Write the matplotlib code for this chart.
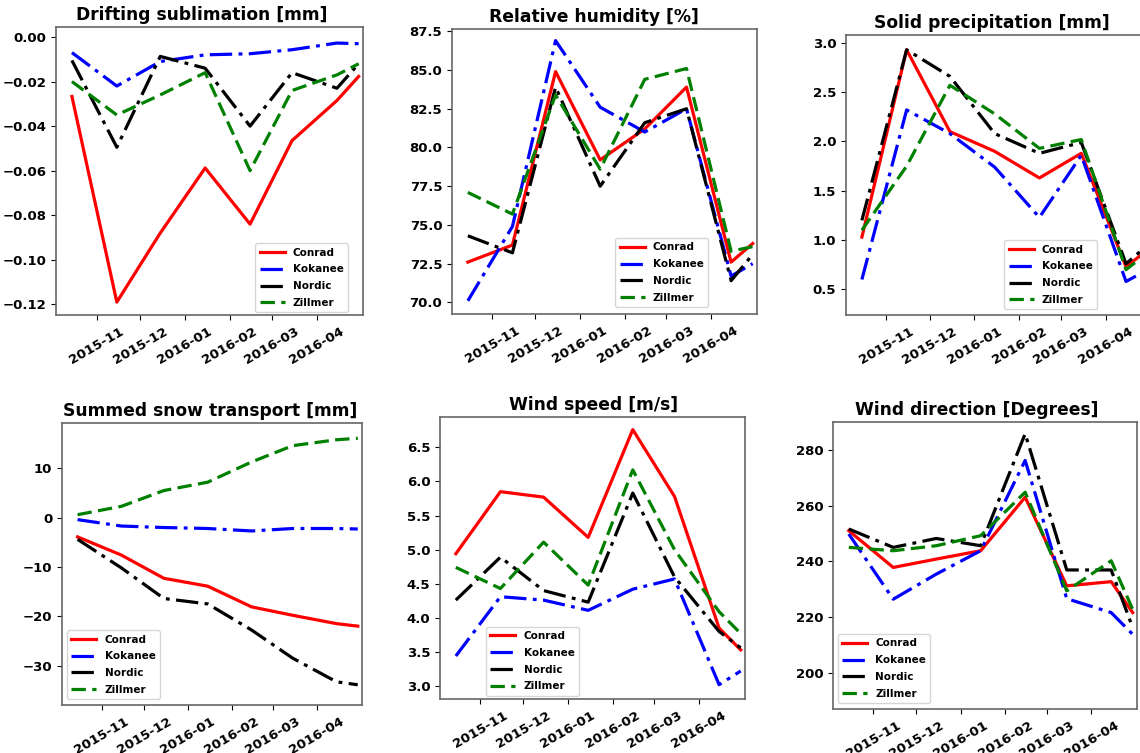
import numpy as np
import matplotlib
matplotlib.use('Agg')
import matplotlib.pyplot as plt
import matplotlib.dates as mdates

plt.rcParams['font.weight'] = 'bold'
plt.rcParams['axes.titleweight'] = 'bold'

# monthly values, last entry is the value at the right edge of the panel
dates = np.array(['2015-10-15', '2015-11-15', '2015-12-15', '2016-01-15',
                  '2016-02-15', '2016-03-15', '2016-04-15', '2016-04-30'],
                 dtype='datetime64[D]')

stations = ['Conrad', 'Kokanee', 'Nordic', 'Zillmer']
colors = ['red', 'blue', 'black', 'green']
styles = ['-', (0, (7, 2, 1.2, 2)), (0, (7, 2, 1.2, 2)), (0, (4.5, 2))]

# drifting sublimation [mm]
sub_conrad = [-0.0267, -0.119, -0.088, -0.0588, -0.084, -0.0465, -0.0285, -0.0177]
sub_kokanee = [-0.007, -0.022, -0.011, -0.008, -0.0075, -0.0057, -0.0027, -0.003]
sub_nordic = [-0.0105, -0.0495, -0.0087, -0.014, -0.040, -0.016, -0.023, -0.012]
sub_zillmer = [-0.020, -0.035, -0.026, -0.016, -0.060, -0.024, -0.017, -0.012]

# relative humidity [%]
rh_conrad = [72.6, 73.7, 84.9, 79.2, 81.2, 83.9, 72.6, 73.8]
rh_kokanee = [70.1, 74.9, 86.9, 82.6, 81.0, 82.5, 71.7, 72.5]
rh_nordic = [74.3, 73.2, 83.9, 77.5, 81.6, 82.5, 71.4, 73.1]
rh_zillmer = [77.1, 75.7, 83.4, 78.6, 84.4, 85.1, 73.3, 73.6]

# solid precipitation [mm]
pr_conrad = [1.03, 2.93, 2.10, 1.90, 1.63, 1.88, 0.73, 0.90]
pr_kokanee = [0.60, 2.32, 2.08, 1.74, 1.23, 1.86, 0.58, 0.70]
pr_nordic = [1.20, 2.93, 2.66, 2.08, 1.88, 1.99, 0.76, 0.95]
pr_zillmer = [1.10, 1.75, 2.57, 2.28, 1.93, 2.02, 0.70, 0.87]

# summed snow transport [mm]
tr_conrad = [-3.9, -7.6, -12.3, -13.9, -18.1, -19.8, -21.5, -22.0]
tr_kokanee = [-0.4, -1.7, -2.0, -2.2, -2.7, -2.2, -2.2, -2.3]
tr_nordic = [-4.4, -10.2, -16.4, -17.5, -22.8, -28.5, -33.3, -33.9]
tr_zillmer = [0.6, 2.3, 5.5, 7.2, 11.3, 14.6, 15.8, 16.1]

# wind speed [m/s]
ws_conrad = [4.94, 5.85, 5.77, 5.18, 6.76, 5.78, 3.85, 3.53]
ws_kokanee = [3.44, 4.31, 4.26, 4.11, 4.42, 4.57, 3.02, 3.22]
ws_nordic = [4.26, 4.89, 4.40, 4.23, 5.83, 4.60, 3.80, 3.56]
ws_zillmer = [4.74, 4.43, 5.11, 4.48, 6.17, 5.00, 4.09, 3.77]

# wind direction [degrees]
wd_conrad = [251.0, 237.8, 240.8, 243.8, 263.0, 231.2, 232.7, 221.6]
wd_kokanee = [249.8, 226.4, 235.4, 243.8, 276.2, 226.6, 221.6, 213.8]
wd_nordic = [251.6, 245.0, 248.2, 245.6, 285.8, 236.9, 236.9, 216.2]
wd_zillmer = [245.0, 243.8, 245.6, 249.2, 264.8, 229.4, 240.2, 222.8]

W, H = 1140, 753
fig = plt.figure(figsize=(W / 100, H / 100), dpi=100)

# title, series, ylim, axes box in pixels, legend loc, legend anchor, title x
panels = [
    ('Drifting sublimation [mm]', [sub_conrad, sub_kokanee, sub_nordic, sub_zillmer],
     (-0.1248, 0.0045), (56, 27, 363, 315), 'lower right', (0.951, 0.01), 0.474),
    ('Relative humidity [%]', [rh_conrad, rh_kokanee, rh_nordic, rh_zillmer],
     (69.25, 87.65), (452, 29, 757, 314), 'lower right', (0.839, 0.025), 0.464),
    ('Solid precipitation [mm]', [pr_conrad, pr_kokanee, pr_nordic, pr_zillmer],
     (0.24, 3.08), (846, 35, 1152, 315), 'lower right', (0.82, 0.021), 0.477),
    ('Summed snow transport [mm]', [tr_conrad, tr_kokanee, tr_nordic, tr_zillmer],
     (-38.0, 19.2), (62, 423, 362, 705), 'lower left', (0.017, 0.021), 0.493),
    ('Wind speed [m/s]', [ws_conrad, ws_kokanee, ws_nordic, ws_zillmer],
     (2.81, 6.945), (440, 417, 745, 699), 'lower left', (0.151, 0.012), 0.505),
    ('Wind direction [Degrees]', [wd_conrad, wd_kokanee, wd_nordic, wd_zillmer],
     (187, 290), (833, 422, 1137, 709), 'lower left', (0.016, 0.021), 0.474),
]

for title, series, ylim, box, loc, anchor, tx in panels:
    x0, y0, x1, y1 = box
    ax = fig.add_axes([x0 / W, 1 - y1 / H, (x1 - x0) / W, (y1 - y0) / H])
    for vals, name, c, ls in zip(series, stations, colors, styles):
        ax.plot(dates, vals, color=c, linestyle=ls, linewidth=2.3, label=name)
    ax.set_title(title, fontsize=12.3, fontweight='bold', pad=5, x=tx)
    ax.set_xlim(np.datetime64('2015-10-04'), np.datetime64('2016-05-03'))
    ax.set_ylim(*ylim)
    ax.xaxis.set_major_locator(mdates.MonthLocator(bymonth=[11, 12, 1, 2, 3, 4]))
    ax.xaxis.set_major_formatter(mdates.DateFormatter('%Y-%m'))
    ax.tick_params(labelsize=9.5)
    for lab in ax.get_xticklabels():
        lab.set_rotation(30)
        lab.set_ha('center')
        lab.set_fontweight('bold')
    for lab in ax.get_yticklabels():
        lab.set_fontweight('bold')
    for sp in ax.spines.values():
        sp.set_color('0.4')
        sp.set_linewidth(1.2)
    ax.legend(loc=loc, bbox_to_anchor=anchor, borderaxespad=0,
              prop={'size': 7.5, 'weight': 'bold'}, handlelength=2.4,
              labelspacing=0.65)

fig.savefig('out.png', dpi=100)
